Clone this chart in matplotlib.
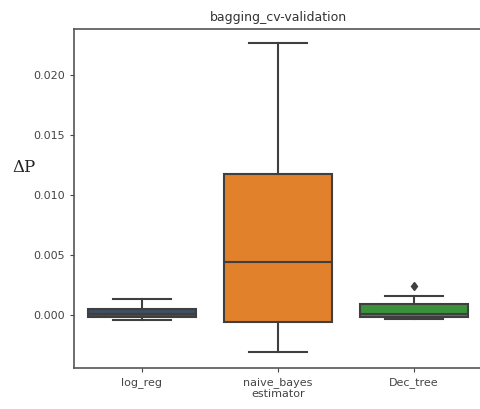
import matplotlib
matplotlib.use("Agg")
import matplotlib.pyplot as plt

categories = ["log_reg", "naive_bayes", "Dec_tree"]
whislo = [-0.0004, -0.00308, -0.0003]
q1 = [-0.00017, -0.00058, -0.00017]
med = [0.0001, 0.00442, 0.0001]
q3 = [0.0005, 0.01175, 0.00092]
whishi = [0.00133, 0.02267, 0.00158]
fliers = [[], [], [0.00242]]
colors = ["#3d4f61", "#e1812c", "#3a923a"]

W, H = 480, 409
fig = plt.figure(figsize=(W / 100, H / 100), dpi=100)
ax = fig.add_axes([74 / W, 1 - 368 / H, 408 / W, (368 - 29) / H])

stats = []
for i, c in enumerate(categories):
    stats.append(dict(label=c, whislo=whislo[i], q1=q1[i], med=med[i],
                      q3=q3[i], whishi=whishi[i], fliers=fliers[i]))

gray = "#3f3f3f"
bp = ax.bxp(stats, positions=range(len(categories)), widths=0.8,
            patch_artist=True, showfliers=True,
            boxprops=dict(edgecolor=gray, linewidth=1.5),
            medianprops=dict(color=gray, linewidth=1.5),
            whiskerprops=dict(color=gray, linewidth=1.5),
            capprops=dict(color=gray, linewidth=1.5),
            flierprops=dict(marker="d", markerfacecolor=gray,
                            markeredgecolor=gray, markersize=4.5))
for patch, col in zip(bp["boxes"], colors):
    patch.set_facecolor(col)
for cap in bp["caps"]:
    xd = cap.get_xdata()
    c = (xd[0] + xd[1]) / 2
    cap.set_xdata([c - 0.21, c + 0.21])

ax.set_xlim(-0.5, 2.5)
ax.set_ylim(-0.00442, 0.02383)
ax.set_yticks([0.0, 0.005, 0.010, 0.015, 0.020])
ax.set_yticklabels(["0.000", "0.005", "0.010", "0.015", "0.020"])
ax.set_xticks(range(len(categories)))
ax.set_xticklabels(categories)
ax.tick_params(labelsize=8, colors="#444444", length=3)
ax.set_xlabel("estimator", fontsize=8, color="#444444", labelpad=1)
ax.set_title("bagging_cv-validation", fontsize=9, color="#333333", pad=6)
for s in ax.spines.values():
    s.set_color("#555555")
    s.set_linewidth(1.2)
ax.spines["right"].set_visible(False)

fig.text(24 / W, 1 - 168 / H, "ΔP", family="DejaVu Serif", fontsize=12,
         ha="center", va="center", color="#222222")

fig.savefig("out.png", dpi=100)
